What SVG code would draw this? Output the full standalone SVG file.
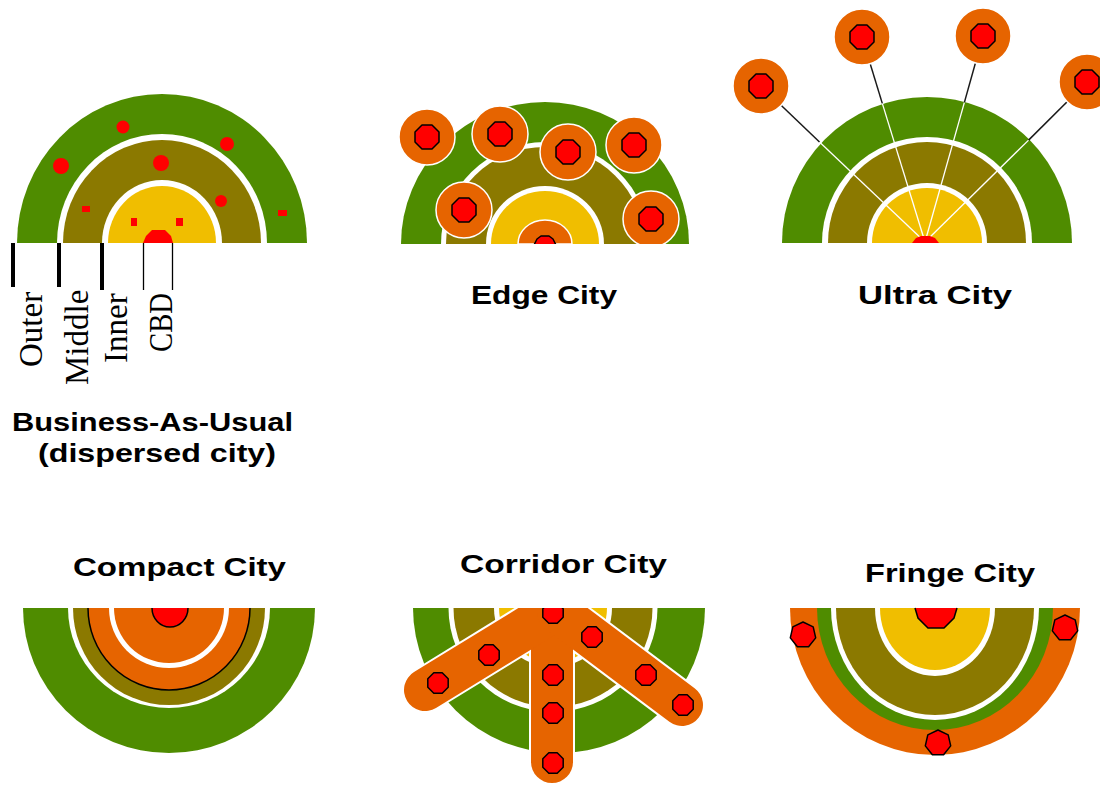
<svg xmlns="http://www.w3.org/2000/svg" xmlns:xlink="http://www.w3.org/1999/xlink" width="1100" height="785" viewBox="0 0 1100 785">
<style>
.g{fill:#4f8c00}
.o{fill:#8b7900}
.y{fill:#f0be00}
.w{fill:#ffffff}
.or{fill:#e66400}
.r{fill:#ff0000}
.rk{fill:#ff0000;stroke:#000;stroke-width:1.5;stroke-linejoin:round}
.k{fill:none;stroke:#000;stroke-width:1.5}
.ttl{font-family:"Liberation Sans",Arial,sans-serif;font-weight:bold;font-size:26px;fill:#000}
.lbl{font-family:"Liberation Serif","Times New Roman",serif;font-size:33px;fill:#000}
</style>
<defs>
<polygon id="oct13" points="12,5 5,12 -5,12 -12,5 -12,-5 -5,-12 5,-12 12,-5"/>
<polygon id="oct11" points="10.2,4.2 4.2,10.2 -4.2,10.2 -10.2,4.2 -10.2,-4.2 -4.2,-10.2 4.2,-10.2 10.2,-4.2"/>
<polygon id="hept" points="0,-13 10.2,-8.1 12.7,2.9 5.6,11.7 -5.6,11.7 -12.7,2.9 -10.2,-8.1"/>
<g id="sat">
<circle r="28" fill="#e66400" stroke="#fff" stroke-width="1.5"/>
<use xlink:href="#oct13" class="rk"/>
</g>
<clipPath id="clipEdge"><rect x="0" y="0" width="1100" height="244"/></clipPath>
<clipPath id="clipCor"><rect x="0" y="608" width="1100" height="177"/></clipPath>
</defs>
<rect width="1100" height="785" fill="#fff"/>

<!-- Business-As-Usual -->
<g id="bau">
<path class="g" d="M17 243 A145 149 0 0 1 307 243Z"/>
<path class="w" d="M57 243 A105 109 0 0 1 267 243Z"/>
<path class="o" d="M63 243 A99 103 0 0 1 261 243Z"/>
<path class="w" d="M102 243 A60 63 0 0 1 222 243Z"/>
<path class="y" d="M108 243 A54 57 0 0 1 216 243Z"/>
<circle class="r" cx="123" cy="127" r="6.5"/>
<circle class="r" cx="227" cy="144" r="7"/>
<circle class="r" cx="61" cy="166" r="8"/>
<circle class="r" cx="161" cy="163" r="8"/>
<circle class="r" cx="221" cy="201" r="6"/>
<rect class="r" x="82" y="206" width="8" height="6"/>
<rect class="r" x="278" y="210" width="9" height="6"/>
<rect class="r" x="131" y="218" width="6" height="8"/>
<rect class="r" x="176" y="218" width="7" height="8"/>
<polygon class="r" points="143,243 146,236 152,230 165,230 171,236 173,243"/>
<g stroke="#000" stroke-width="4">
<line x1="13" y1="243" x2="13" y2="287"/>
<line x1="59" y1="243" x2="59" y2="287"/>
<line x1="102" y1="243" x2="102" y2="290"/>
</g>
<g stroke="#000" stroke-width="1.3">
<line x1="143.5" y1="243" x2="143.5" y2="290"/>
<line x1="172.5" y1="243" x2="172.5" y2="290"/>
</g>
<text class="lbl" transform="translate(42,367) rotate(-90)">Outer</text>
<text class="lbl" transform="translate(88,385) rotate(-90)">Middle</text>
<text class="lbl" transform="translate(127,363) rotate(-90)">Inner</text>
<text class="lbl" transform="translate(172,352) rotate(-90)" textLength="59" lengthAdjust="spacingAndGlyphs">CBD</text>
<text class="ttl" font-size="25"><tspan x="12" y="431" textLength="281" lengthAdjust="spacingAndGlyphs">Business-As-Usual</tspan><tspan x="38" y="462" textLength="238" lengthAdjust="spacingAndGlyphs">(dispersed city)</tspan></text>
</g>

<!-- Edge City -->
<g id="edge" clip-path="url(#clipEdge)">
<path class="g" d="M401 244 A144 142 0 0 1 689 244Z"/>
<path class="w" d="M441 244 A104 102 0 0 1 649 244Z"/>
<path class="o" d="M446 244 A99 97 0 0 1 644 244Z"/>
<path class="w" d="M486 244 A59 58 0 0 1 604 244Z"/>
<path class="y" d="M491 244 A54 53 0 0 1 599 244Z"/>
<path class="or" stroke="#fff" stroke-width="1.5" d="M518 244 A27 24 0 0 1 572 244Z"/>
<polygon class="rk" points="534,245 537,239 541,236 549,236 553,239 556,245"/>
<use xlink:href="#sat" x="427" y="137"/>
<use xlink:href="#sat" x="500" y="134"/>
<use xlink:href="#sat" x="568" y="152"/>
<use xlink:href="#sat" x="634" y="145"/>
<use xlink:href="#sat" x="464" y="210"/>
<use xlink:href="#sat" x="651" y="219"/>
</g>
<text id="edge-title" class="ttl" x="471" y="304" textLength="146" lengthAdjust="spacingAndGlyphs">Edge City</text>

<!-- Ultra City -->
<g id="ultra">
<path class="g" d="M782 243 A145 146 0 0 1 1072 243Z"/>
<path class="w" d="M822 243 A105 106 0 0 1 1032 243Z"/>
<path class="o" d="M828 243 A99 101 0 0 1 1026 243Z"/>
<path class="w" d="M867 243 A60 60 0 0 1 987 243Z"/>
<path class="y" d="M872 243 A55 55 0 0 1 982 243Z"/>
</g>
<g id="connectors">
<g stroke="#fff" stroke-width="1.3">
<line x1="925" y1="242" x2="819.5" y2="142"/>
<line x1="925" y1="242" x2="882.3" y2="103.4"/>
<line x1="925" y1="242" x2="964.4" y2="102.4"/>
<line x1="925" y1="242" x2="1028.6" y2="140.1"/>
</g>
<g stroke="#1a1a1a" stroke-width="1.5">
<line x1="819.5" y1="142" x2="761" y2="86"/>
<line x1="882.3" y1="103.4" x2="862" y2="37"/>
<line x1="964.4" y1="102.4" x2="983" y2="36"/>
<line x1="1028.6" y1="140.1" x2="1087" y2="82"/>
</g>
</g>
<g id="ultra-nodes">
<polygon class="r" points="912,243 916,238 921,236 930,236 935,238 939,243"/>
<use xlink:href="#sat" x="761" y="86"/>
<use xlink:href="#sat" x="862" y="37"/>
<use xlink:href="#sat" x="983" y="36"/>
<use xlink:href="#sat" x="1087" y="82"/>
<text class="ttl" x="858" y="304" textLength="154" lengthAdjust="spacingAndGlyphs">Ultra City</text>
</g>

<!-- Compact City -->
<g id="compact">
<text class="ttl" x="73" y="576" textLength="213" lengthAdjust="spacingAndGlyphs">Compact City</text>
<path class="g" d="M23 608 A146 145 0 0 0 315 608Z"/>
<path class="w" d="M68 608 A101 100 0 0 0 270 608Z"/>
<path class="o" d="M73 608 A96 97 0 0 0 265 608Z"/>
<path class="or" d="M88 608 A81 82 0 0 0 250 608Z"/>
<path class="k" d="M88 608 A81 82 0 0 0 250 608"/>
<path class="w" d="M109 608 A60 60 0 0 0 229 608Z"/>
<path class="or" d="M114 608 A55 55 0 0 0 224 608Z"/>
<path class="r" d="M152 608 A18 19 0 0 0 188 608Z"/>
<path class="k" d="M152 608 A18 19 0 0 0 188 608"/>
</g>

<!-- Corridor City -->
<g id="corridor">
<text class="ttl" x="460" y="573" textLength="207" lengthAdjust="spacingAndGlyphs">Corridor City</text>
<path class="g" d="M413 608 A146 145 0 0 0 705 608Z"/>
<path class="w" d="M448.5 608 A104.5 104 0 0 0 657.5 608Z"/>
<path class="o" d="M453.5 608 A99.5 99 0 0 0 652.5 608Z"/>
<path class="w" d="M494 608 A59 59 0 0 0 612 608Z"/>
<path class="y" d="M499 608 A54 54 0 0 0 607 608Z"/>
<g clip-path="url(#clipCor)" fill="none" stroke-linecap="round" stroke-linejoin="round">
<g stroke="#fff" stroke-width="46">
<path d="M552 595 L552 762"/>
<path d="M552 612 L425 690"/>
<path d="M558 612 L682 705"/>
</g>
<g stroke="#e66400" stroke-width="42">
<path d="M552 595 L552 762"/>
<path d="M552 612 L425 690"/>
<path d="M558 612 L682 705"/>
</g>
<g class="rk">
<use xlink:href="#oct11" x="553" y="613"/>
<use xlink:href="#oct11" x="592" y="637"/>
<use xlink:href="#oct11" x="489" y="655"/>
<use xlink:href="#oct11" x="438" y="683"/>
<use xlink:href="#oct11" x="553" y="675"/>
<use xlink:href="#oct11" x="646" y="675"/>
<use xlink:href="#oct11" x="553" y="713"/>
<use xlink:href="#oct11" x="683" y="705"/>
<use xlink:href="#oct11" x="553" y="763"/>
</g>
</g>
</g>

<!-- Fringe City -->
<g id="fringe">
<text class="ttl" x="865" y="582" textLength="170" lengthAdjust="spacingAndGlyphs">Fringe City</text>
<path class="or" d="M790 608 A145 147 0 0 0 1080 608Z"/>
<path class="g" d="M817 608 A118 122 0 0 0 1053 608Z"/>
<path class="w" d="M831 608 A104 112 0 0 0 1039 608Z"/>
<path class="o" d="M836 608 A99 107 0 0 0 1034 608Z"/>
<path class="w" d="M875 608 A60 68 0 0 0 995 608Z"/>
<path class="y" d="M880 608 A55 62 0 0 0 990 608Z"/>
<polygon class="r" points="915,608 918,618 928,628 944,628 954,618 957,608"/>
<polyline class="k" points="915,608 918,618 928,628 944,628 954,618 957,608"/>
<use xlink:href="#hept" class="rk" x="803" y="635"/>
<use xlink:href="#hept" class="rk" x="1065" y="628"/>
<use xlink:href="#hept" class="rk" x="938" y="743"/>
</g>
</svg>
